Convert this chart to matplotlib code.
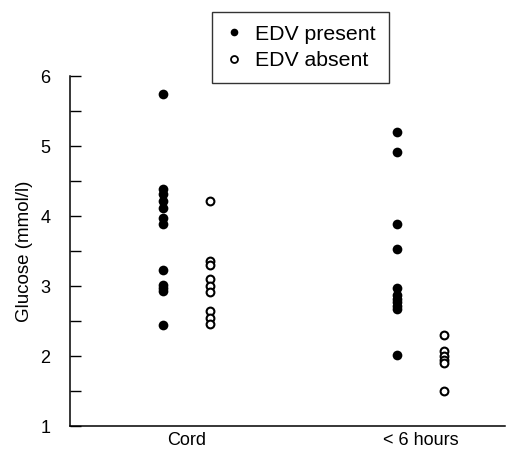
import numpy as np
import matplotlib
matplotlib.use("Agg")
import matplotlib.pyplot as plt
from matplotlib.lines import Line2D
from matplotlib.ticker import MultipleLocator

plt.rcParams.update({
    "font.family": ["Liberation Sans", "DejaVu Sans"],
    "font.size": 13,
})

groups = ["Cord", "< 6 hours"]

# glucose values (mmol/l)
cord_present = [5.75, 4.38, 4.32, 4.22, 4.12, 3.97, 3.88, 3.23, 3.02, 2.97, 2.93, 2.44]
cord_absent = [4.22, 3.36, 3.30, 3.10, 3.00, 2.92, 2.64, 2.54, 2.46]
early_present = [5.20, 4.92, 3.88, 3.53, 2.97, 2.87, 2.82, 2.77, 2.72, 2.67, 2.02]
early_absent = [2.30, 2.07, 2.00, 1.95, 1.90, 1.50]

present = [cord_present, early_present]
absent = [cord_absent, early_absent]

fig = plt.figure(figsize=(5.14, 4.5), dpi=100)
ax = fig.add_axes([0.136, 0.0533, 0.8465, 0.7777])

for i, (p, a) in enumerate(zip(present, absent)):
    ax.plot(np.full(len(p), i - 0.1), p, "o", color="black", ms=7, mew=0)
    ax.plot(np.full(len(a), i + 0.1), a, "o", mfc="white", mec="black", ms=5.6, mew=1.5)

ax.set_xlim(-0.498, 1.361)
ax.set_ylim(1, 6)
ax.set_xticks([0, 1])
ax.set_xticklabels(groups)
ax.tick_params(axis="x", length=0, pad=4)
ax.yaxis.set_major_locator(MultipleLocator(1))
ax.yaxis.set_minor_locator(MultipleLocator(0.5))
ax.tick_params(axis="y", which="both", direction="in", length=8, width=1, pad=14)
ax.set_ylabel("Glucose (mmol/l)", fontsize=13.5, labelpad=5)

for side in ("top", "right"):
    ax.spines[side].set_visible(False)
for side in ("left", "bottom"):
    ax.spines[side].set_linewidth(1.1)

handles = [
    Line2D([], [], ls="", marker="o", color="black", ms=5.5, mew=0),
    Line2D([], [], ls="", marker="o", mfc="white", mec="black", ms=5, mew=1.3),
]
leg = fig.legend(handles, ["EDV present", "EDV absent"],
                 loc="upper left", bbox_to_anchor=(0.413, 0.974),
                 frameon=True, fancybox=False, edgecolor="black",
                 handlelength=0.8, handletextpad=0.6, borderpad=0.62,
                 borderaxespad=0, labelspacing=0.35, fontsize=15.3)
leg.get_frame().set_linewidth(1.0)

fig.savefig("out.png", dpi=100)
